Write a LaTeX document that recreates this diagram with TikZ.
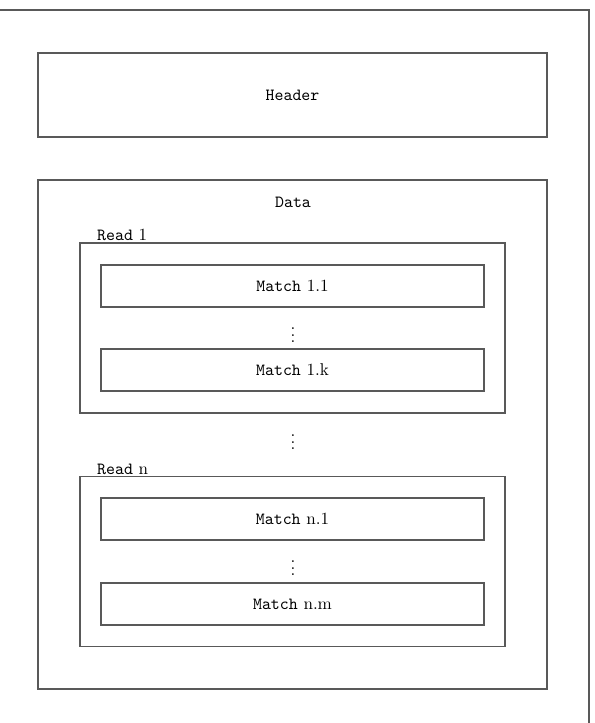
\documentclass[tikz,border=0pt]{standalone}
\usetikzlibrary{positioning}
\tikzset{every picture/.style={line width=0.6pt}}
\tikzset{
  box/.style={draw=black!65, inner sep=0pt, outer sep=0pt},
  matchbox/.style={box, minimum width={383*0.0206cm}, minimum height={42*0.0206cm}},
  readbox/.style={box, minimum width={425*0.0206cm}, minimum height={170*0.0206cm}},
  readlbl/.style={anchor=south west, inner sep=1pt},
}

\begin{document}
\begin{tikzpicture}[x=0.0206cm, y=-0.0206cm]
    \useasboundingbox (0,0) rectangle (594,723);
    % outer frame (cut at left and bottom)
    \draw[draw=black!65] (0,10) -- (589,10) -- (589,723);
    \node[box, minimum width={509*0.0206cm}, minimum height={84*0.0206cm}] (header) at (292.5,95) {\ttfamily Header};
    \node[box, minimum width={509*0.0206cm}, minimum height={509*0.0206cm}] (data) at (292.5,434.5) {};
    \node (datalbl) at (293,202) {\ttfamily Data};
    % read 1
    \node[readbox] (read1) at (292.5,328) {};
    \node[readlbl] (read1lbl) at (95,243) {{\ttfamily Read} 1};
    \node[matchbox] (m11) at (292.5,286) {{\ttfamily Match} 1.1};
    \node (dots1) at (293,330) {$\vdots$};
    \node[matchbox] (m1k) at (292.5,370) {{\ttfamily Match} 1.k};
    \node (dots) at (293,437) {$\vdots$};
    % read n
    \node[readbox] (readn) at (292.5,561.5) {};
    \node[readlbl] (readnlbl) at (95,477) {{\ttfamily Read} n};
    \node[matchbox] (mn1) at (292.5,519) {{\ttfamily Match} n.1};
    \node (dotsn) at (293,563) {$\vdots$};
    \node[matchbox] (mnm) at (292.5,604) {{\ttfamily Match} n.m};
\end{tikzpicture}
\end{document}
